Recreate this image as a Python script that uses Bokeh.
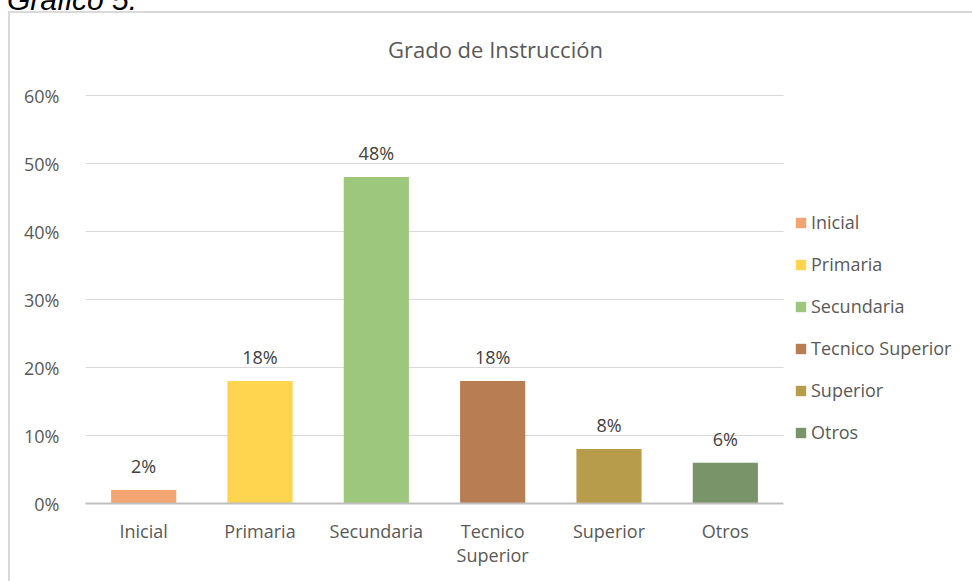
from bokeh.plotting import figure
from bokeh.layouts import column
from bokeh.models import (ColumnDataSource, Legend, LegendItem, Label, BoxAnnotation, Div,
                          NumeralTickFormatter, FixedTicker, Range1d)
from bokeh.core.properties import value
from bokeh.embed import file_html
from bokeh.resources import INLINE

categories = ["Inicial", "Primaria", "Secundaria", "Tecnico Superior", "Superior", "Otros"]
tick_labels = ["Inicial", "Primaria", "Secundaria", "Tecnico\nSuperior", "Superior", "Otros"]
values = [0.02, 0.18, 0.48, 0.18, 0.08, 0.06]
labels = ["2%", "18%", "48%", "18%", "8%", "6%"]
colors = ["#F3A571", "#FFD44F", "#9DC77D", "#B97D53", "#B79C4B", "#7A946A"]
yticks = [0, 0.1, 0.2, 0.3, 0.4, 0.5, 0.6]
title_text = "Grado de Instrucción"
caption_text = "Gráfico 5."

FONT = "Open Sans"
TXT = "#595959"
BORDER = "#D9D9D9"

n = len(categories)
xs = [i + 0.5 for i in range(n)]          # category slots
x_end = n + 189 / (698 / n)               # extra room on the right for the legend

# caption (cut by the top of the page) and the top edge of the chart box
caption = Div(text=caption_text, width=972, height=13, margin=0, styles={
    "font-family": "'Liberation Sans', Arial, sans-serif",
    "font-style": "italic",
    "font-size": "30px",
    "line-height": "0px",
    "color": "#000000",
    "overflow": "hidden",
    "white-space": "nowrap",
    "text-indent": "7px",
    "background-image": "linear-gradient(#D9D9D9, #D9D9D9)",
    "background-size": "964px 2px",
    "background-position": "8px 11px",
    "background-repeat": "no-repeat",
})

src = ColumnDataSource(dict(x=xs, cat=categories, val=values, lab=labels, col=colors))

p = figure(width=972, height=568, x_range=Range1d(0, x_end), y_range=(0, 0.6956),
           output_backend="svg", toolbar_location=None, margin=0,
           min_border_left=85, min_border_right=0, min_border_top=17, min_border_bottom=78)
p.outline_line_color = None
p.background_fill_alpha = 0
p.border_fill_alpha = 0
# left edge of the chart box
p.styles = {
    "background-image": "linear-gradient(#D9D9D9, #D9D9D9)",
    "background-size": "2px 100%",
    "background-position": "8px 0px",
    "background-repeat": "no-repeat",
}

r = p.vbar(x="x", top="val", width=0.56, fill_color="col", line_color=None, source=src)

p.text(x="x", y="val", text="lab", source=src, text_align="center", text_baseline="middle",
       y_offset=-24, text_font=value(FONT), text_font_size="18px", text_color="#404040")

p.yaxis.ticker = yticks
p.yaxis.formatter = NumeralTickFormatter(format="0%")
p.yaxis.axis_line_color = None
p.yaxis.major_tick_line_color = None
p.yaxis.minor_tick_line_color = None
p.yaxis.major_label_text_font = FONT
p.yaxis.major_label_text_font_size = "18px"
p.yaxis.major_label_text_color = TXT
p.yaxis.major_label_standoff = 20

p.xaxis.ticker = FixedTicker(ticks=xs, minor_ticks=[])
p.xaxis.major_label_overrides = {x: t for x, t in zip(xs, tick_labels)}
p.xaxis.bounds = (0, n)
p.xaxis.axis_line_color = "#BFBFBF"
p.xaxis.axis_line_width = 2
p.xaxis.major_tick_line_color = None
p.xaxis.minor_tick_line_color = None
p.xaxis.major_label_text_font = FONT
p.xaxis.major_label_text_font_size = "18px"
p.xaxis.major_label_text_color = TXT
p.xaxis.major_label_text_line_height = 1.0
p.xaxis.major_label_standoff = 9

p.xgrid.grid_line_color = None
p.ygrid.grid_line_color = BORDER
p.ygrid.grid_line_width = 1

# keep the gridlines inside the plot area (the legend sits to the right of it)
p.add_layout(BoxAnnotation(left=n, fill_color="white", fill_alpha=1, line_color=None))

p.add_layout(Label(x=3.524, y=0.6691, text=title_text, text_align="center",
                   text_baseline="middle", text_font=FONT, text_font_size="22px",
                   text_color=TXT))

items = [LegendItem(label=c, renderers=[r], index=i) for i, c in enumerate(categories)]
legend = Legend(items=items, location=(709, 59), padding=0, margin=0,
                border_line_color=None, background_fill_alpha=0,
                glyph_width=13, glyph_height=13, label_standoff=4,
                label_text_font=FONT, label_text_font_size="18px", label_text_color=TXT,
                label_height=24, spacing=18)
p.add_layout(legend, "center")

layout = column(caption, p, spacing=0)

open("out.html", "w").write(file_html(layout, INLINE))
